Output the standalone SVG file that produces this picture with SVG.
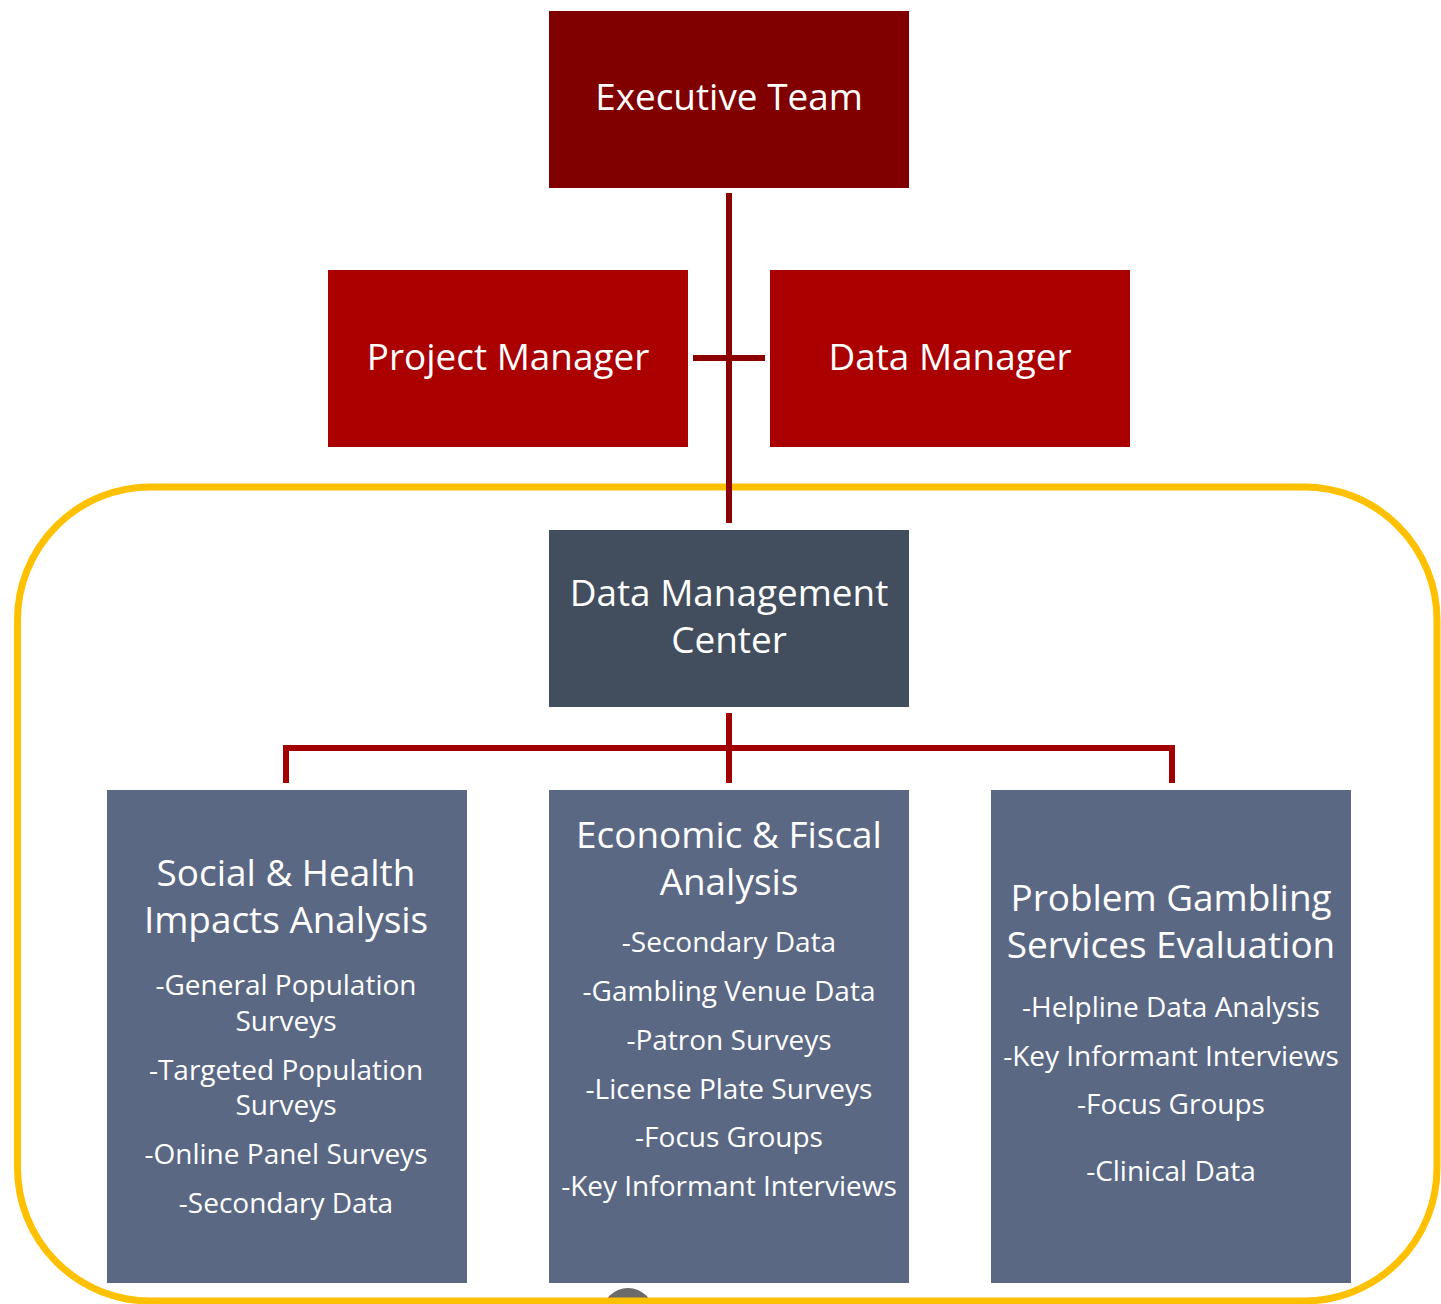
<svg xmlns="http://www.w3.org/2000/svg" width="1441" height="1304" viewBox="0 0 1441 1304">
<style>
.h{font-family:"Open Sans","Noto Sans",sans-serif;font-size:36.9px;fill:#fff;text-anchor:middle}
.i{font-family:"Open Sans","Noto Sans",sans-serif;font-size:28px;fill:#fff;text-anchor:middle}
.c1{stroke:#8c0000;stroke-width:6;fill:none}
.c2{stroke:#a00000;stroke-width:6;fill:none}
</style>
<rect width="1441" height="1304" fill="#fff"/>
<g id="logo">
<circle cx="628" cy="1314" r="26" fill="#6b6b6b"/>
<path d="M604 1304 L610 1296 L614 1304 Z" fill="#c0392b"/>
</g>
<g id="boundary">
<rect x="17.5" y="487" width="1419.5" height="814" rx="133" ry="133" fill="none" stroke="#ffc000" stroke-width="7"/>
</g>
<g id="connectors">
<path class="c1" d="M729 193 V523 M693 358 H765"/>
<path class="c2" d="M729 713 V783 M286 783 V748 H1172 V783"/>
</g>
<g id="executive-team">
<rect x="549" y="11" width="360" height="177" fill="#800000"/>
<text class="h" x="729" y="110">Executive Team</text>
</g>
<g id="project-manager">
<rect x="328" y="270" width="360" height="177" fill="#aa0000"/>
<text class="h" x="508" y="370">Project Manager</text>
</g>
<g id="data-manager">
<rect x="770" y="270" width="360" height="177" fill="#aa0000"/>
<text class="h" x="950" y="370">Data Manager</text>
</g>
<g id="data-management-center">
<rect x="549" y="530" width="360" height="177" fill="#424e5e"/>
<text class="h" x="729" y="606">Data Management</text>
<text class="h" x="729" y="653">Center</text>
</g>
<g id="social-health">
<rect x="107" y="790" width="360" height="493" fill="#5b6884"/>
<text class="h" x="286" y="886">Social &amp; Health</text>
<text class="h" x="286" y="933">Impacts Analysis</text>
<text class="i" x="286" y="995">-General Population</text>
<text class="i" x="286" y="1031">Surveys</text>
<text class="i" x="286" y="1080">-Targeted Population</text>
<text class="i" x="286" y="1115">Surveys</text>
<text class="i" x="286" y="1164">-Online Panel Surveys</text>
<text class="i" x="286" y="1213">-Secondary Data</text>
</g>
<g id="economic-fiscal">
<rect x="549" y="790" width="360" height="493" fill="#5b6884"/>
<text class="h" x="729" y="848">Economic &amp; Fiscal</text>
<text class="h" x="729" y="895">Analysis</text>
<text class="i" x="729" y="952">-Secondary Data</text>
<text class="i" x="729" y="1001">-Gambling Venue Data</text>
<text class="i" x="729" y="1050">-Patron Surveys</text>
<text class="i" x="729" y="1099">-License Plate Surveys</text>
<text class="i" x="729" y="1147">-Focus Groups</text>
<text class="i" x="729" y="1196">-Key Informant Interviews</text>
</g>
<g id="problem-gambling">
<rect x="991" y="790" width="360" height="493" fill="#5b6884"/>
<text class="h" x="1171" y="911">Problem Gambling</text>
<text class="h" x="1171" y="958">Services Evaluation</text>
<text class="i" x="1171" y="1017">-Helpline Data Analysis</text>
<text class="i" x="1171" y="1066">-Key Informant Interviews</text>
<text class="i" x="1171" y="1114">-Focus Groups</text>
<text class="i" x="1171" y="1181">-Clinical Data</text>
</g>
</svg>
